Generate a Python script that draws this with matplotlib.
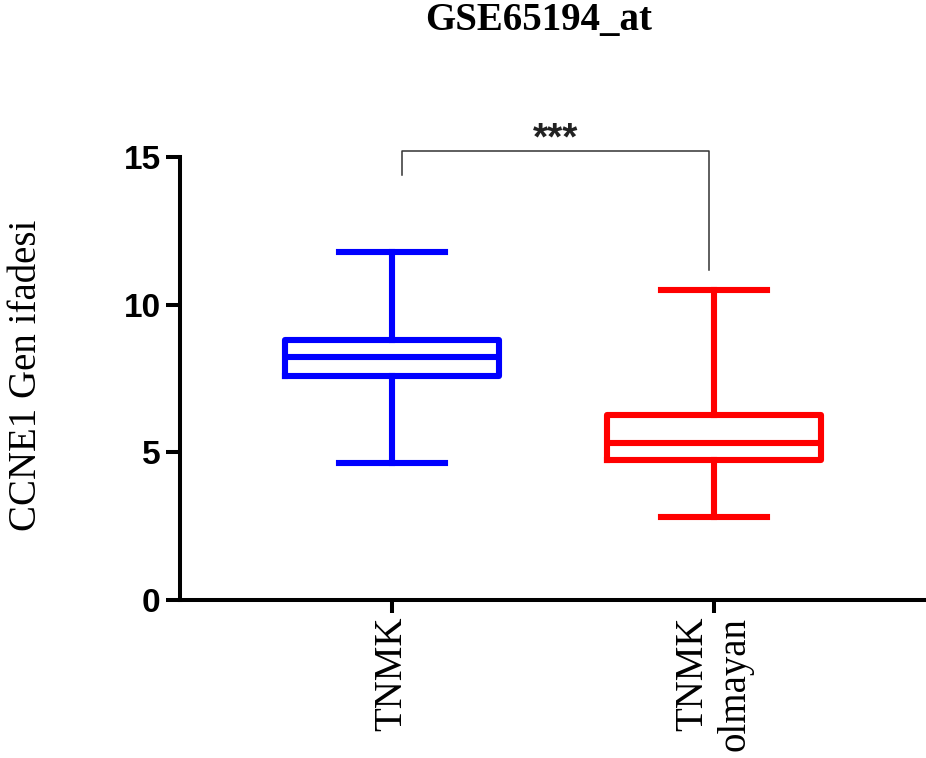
import matplotlib
matplotlib.use('Agg')
import matplotlib.pyplot as plt

groups = ['TNMK', 'TNMK\nolmayan']
colors = ['#0000FF', '#FF0000']
whislo = [4.65, 2.80]
q1 = [7.59, 4.75]
med = [8.23, 5.30]
q3 = [8.81, 6.26]
whishi = [11.77, 10.51]
signif = '***'

stats = []
for i in range(len(groups)):
    stats.append({'whislo': whislo[i], 'q1': q1[i], 'med': med[i], 'q3': q3[i],
                  'whishi': whishi[i], 'fliers': [], 'label': groups[i]})

fig = plt.figure(figsize=(9.26, 7.58), dpi=100)
ax = fig.add_axes([180 / 926, 158 / 758, 746 / 926, 443 / 758])

for i, st in enumerate(stats):
    c = colors[i]
    ax.bxp([st], positions=[i + 1], widths=0.665, capwidths=0.33, showfliers=False,
           boxprops=dict(color=c, lw=4.4),
           medianprops=dict(color=c, lw=4.4),
           whiskerprops=dict(color=c, lw=4.4),
           capprops=dict(color=c, lw=4.4))

ax.set_xlim(0.34, 2.66)
ax.set_ylim(0, 15)
ax.set_yticks([0, 5, 10, 15])
ax.set_xticks([1, 2])
ax.set_xticklabels(groups, rotation=90, family='Liberation Serif', fontsize=28,
                   va='top', ha='center', multialignment='right')
for lab in ax.get_yticklabels():
    lab.set_family('Liberation Sans')
    lab.set_fontweight('bold')
    lab.set_fontsize(24)

for s in ['top', 'right']:
    ax.spines[s].set_visible(False)
for s in ['left', 'bottom']:
    ax.spines[s].set_linewidth(2.9)
ax.tick_params(axis='y', length=10, width=2.9, pad=4)
ax.tick_params(axis='x', length=9, width=2.9, pad=3)

# significance bracket
ax.plot([1.03, 1.03, 1.984, 1.984], [14.38, 15.2, 15.2, 11.17], color='#333333',
        lw=1.1, clip_on=False)
ax.text(1.507, 15.25, signif, ha='center', va='baseline', fontsize=28,
        family='Liberation Sans', fontweight='bold', color='#222222')

fig.text(27 / 926, 1 - 375 / 758, 'CCNE1 Gen ifadesi', rotation=90, ha='center',
         va='center', family='Liberation Serif', fontsize=28)
fig.text(539 / 926, 1 - 21 / 758, 'GSE65194_at', ha='center', va='center',
         family='Liberation Serif', fontweight='bold', fontsize=28)

fig.savefig('out.png', dpi=100)
